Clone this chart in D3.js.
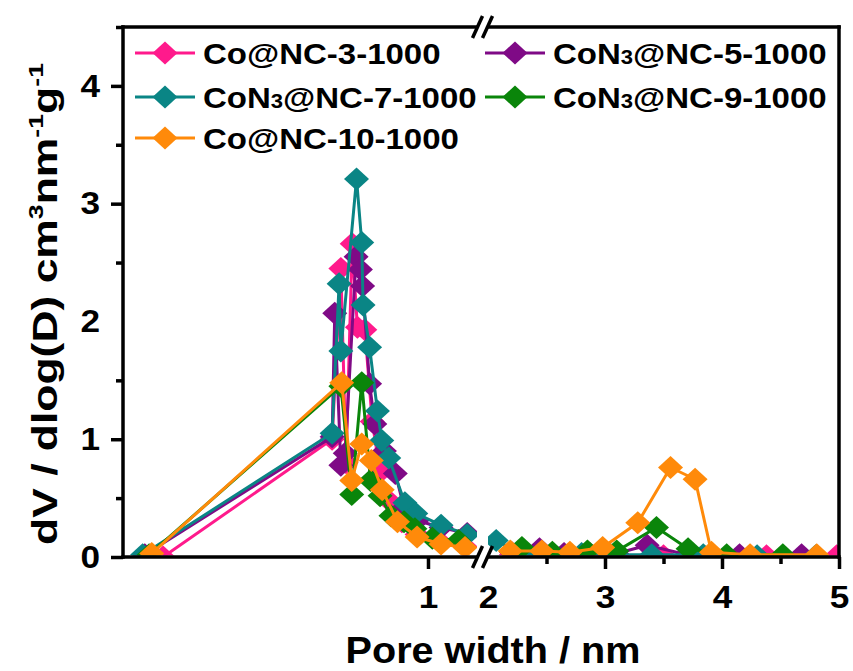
<!DOCTYPE html>
<html>
<head>
<meta charset="utf-8">
<script src="https://cdn.jsdelivr.net/npm/d3@7"></script>
<style>
body{margin:0;background:#fff;}
text{font-family:Arial,"Liberation Sans",sans-serif;font-weight:bold;fill:#000;}
</style>
</head>
<body>
<div id="chart"></div>
<script>
// pore size distribution
const seriesNames = ["Co@NC-3-1000", "CoN3@NC-5-1000", "CoN3@NC-7-1000", "CoN3@NC-9-1000", "Co@NC-10-1000"];
const seriesColors = ["#ff1a8c", "#7f0a86", "#0a8585", "#0a850a", "#ff8a0a"];

const co3 = [[0.392,0.0],[0.78,1.0],[0.80,2.45],[0.812,0.80],[0.826,2.66],[0.838,1.95],[0.855,1.93],[0.872,1.15],[0.89,0.72],[0.91,0.48],[0.94,0.30],[0.975,0.19],[1.03,0.12],[1.085,0.09],
             [2.2,0.02],[2.5,0.01],[2.8,0.01],[3.1,0.01],[3.5,0.01],[3.9,0.01],[4.38,0.01],[4.98,0.01]];
const con5 = [[0.35,0.02],[0.78,1.02],[0.786,2.07],[0.80,0.78],[0.81,0.88],[0.835,2.55],[0.845,2.44],[0.85,2.3],[0.866,1.47],[0.878,1.13],[0.90,0.90],[0.925,0.71],[0.945,0.42],[0.975,0.31],[1.03,0.25],[1.09,0.20],
              [2.2,0.04],[2.44,0.07],[2.65,0.03],[2.87,0.03],[3.1,0.03],[3.36,0.1],[3.7,0.02],[4.15,0.02],[4.68,0.02]];
const con7 = [[0.345,0.02],[0.78,1.05],[0.796,2.32],[0.80,1.75],[0.836,3.21],[0.848,2.67],[0.851,2.14],[0.866,1.78],[0.884,1.24],[0.894,0.99],[0.91,0.84],[0.947,0.46],[0.972,0.37],[1.03,0.27],[1.09,0.19],
              [2.07,0.14],[2.3,0.02],[2.55,0.02],[2.8,0.03],[3.05,0.02],[3.4,0.02],[3.84,0.02],[4.3,0.01],[4.8,0.01]];
const con9 = [[0.36,0.02],[0.80,1.45],[0.825,0.53],[0.848,1.48],[0.868,0.65],[0.89,0.52],[0.915,0.35],[0.945,0.30],[0.97,0.24],[1.01,0.16],[1.07,0.14],
              [2.29,0.08],[2.55,0.04],[2.85,0.05],[3.1,0.05],[3.44,0.25],[3.71,0.07],[4.04,0.02],[4.52,0.02]];
const co10 = [[0.366,0.03],[0.802,1.48],[0.825,0.65],[0.848,0.96],[0.87,0.82],[0.895,0.57],[0.93,0.30],[0.975,0.17],[1.03,0.11],[1.085,0.08],
              [2.19,0.05],[2.46,0.05],[2.70,0.04],[2.98,0.08],[3.28,0.29],[3.56,0.76],[3.77,0.66],[3.91,0.04],[4.24,0.02],[4.81,0.02]];
const allSeries = [co3, con5, con7, con9, co10];

const yTicks = [0, 1, 2, 3, 4];
const yMinor = [0.5, 1.5, 2.5, 3.5, 4.5];
const xLeftTicks = [1];
const xRightTicks = [2, 3, 4, 5];
const xRightMinor = [2.5, 3.5, 4.5];

const width = 853, height = 671;
const stretch = 1.1; // the source picture is a bit wide

const svg = d3.select("#chart").append("svg")
    .attr("width", width)
    .attr("height", height);

const xLeft = d3.scaleLinear().domain([0.3, 1.1125]).range([123, 477]);
const xRight = d3.scaleLinear().domain([2, 5]).range([488, 839]);
const y = d3.scaleLinear().domain([0, 4.5]).range([557, 27]);

function widen(sel){
    sel.each(function(){
        let len = this.getComputedTextLength();
        d3.select(this).attr("textLength", len*stretch).attr("lengthAdjust", "spacingAndGlyphs");
    });
}

const diamond = "M0,-11.5L12.5,0L0,11.5L-12.5,0Z";

let defs = svg.append("defs");
defs.append("clipPath").attr("id", "clipL").append("rect")
    .attr("x", 123).attr("y", 0).attr("width", 477-123).attr("height", y(0)-1.5);
defs.append("clipPath").attr("id", "clipR").append("rect")
    .attr("x", 488).attr("y", 0).attr("width", 839-488).attr("height", y(0)-1.5);

function drawPart(g, data, x, color){
    g.append("path")
        .datum(data)
        .attr("fill", "none")
        .attr("stroke", color)
        .attr("stroke-width", 3)
        .attr("stroke-linejoin", "round")
        .attr("d", d3.line().x(d => x(d[0])).y(d => y(d[1])));
    g.selectAll(null).data(data).enter().append("path")
        .attr("d", diamond)
        .attr("fill", color)
        .attr("transform", d => `translate(${x(d[0])},${y(d[1])})`);
}

let gl = svg.append("g").attr("clip-path", "url(#clipL)");
let gr = svg.append("g").attr("clip-path", "url(#clipR)");
allSeries.forEach(function(s, i){
    drawPart(gl.append("g"), s.filter(d => d[0] < 1.5), xLeft, seriesColors[i]);
    drawPart(gr.append("g"), s.filter(d => d[0] >= 1.5), xRight, seriesColors[i]);
});

// axes
const axW = 3.5;
const fmt = d3.format("d");
svg.append("g").attr("transform", "translate(123,0)")
    .call(d3.axisLeft(y).tickValues(yTicks).tickSize(12).tickSizeOuter(0).tickPadding(11).tickFormat(fmt));
svg.append("g").attr("transform", "translate(123,0)")
    .call(d3.axisLeft(y).tickValues(yMinor).tickSize(7).tickSizeOuter(0).tickFormat(""));
svg.append("g").attr("transform", `translate(0,${y(0)})`)
    .call(d3.axisBottom(xLeft).tickValues(xLeftTicks).tickSize(12).tickSizeOuter(0).tickPadding(16).tickFormat(fmt));
svg.append("g").attr("transform", `translate(0,${y(0)})`)
    .call(d3.axisBottom(xRight).tickValues(xRightTicks).tickSize(12).tickSizeOuter(0).tickPadding(16).tickFormat(fmt));
svg.append("g").attr("transform", `translate(0,${y(0)})`)
    .call(d3.axisBottom(xRight).tickValues(xRightMinor).tickSize(7).tickSizeOuter(0).tickFormat(""));
svg.selectAll(".domain").remove();
svg.selectAll(".tick line").attr("stroke", "#000").attr("stroke-width", axW);
svg.selectAll(".tick text").style("font-size", "32px").style("font-family", "Arial, 'Liberation Sans', sans-serif").style("font-weight", "bold").attr("fill", "#000").call(widen);
// hide the tick under the break mark at 2
svg.selectAll(".tick").filter(d => d === 2).select("line").remove();

// frame
let frame = svg.append("g").attr("stroke", "#000").attr("stroke-width", axW).attr("fill", "none");
frame.append("line").attr("x1", 123).attr("x2", 123).attr("y1", y(4.5)-1.75).attr("y2", y(0)+1.75);
frame.append("line").attr("x1", 839).attr("x2", 839).attr("y1", y(4.5)-1.75).attr("y2", y(0)+1.75);
[y(0), y(4.5)].forEach(function(yy){
    frame.append("line").attr("x1", 121.25).attr("x2", 478).attr("y1", yy).attr("y2", yy);
    frame.append("line").attr("x1", 487).attr("x2", 840.75).attr("y1", yy).attr("y2", yy);
    [477.5, 487.5].forEach(function(bx){
        frame.append("line").attr("x1", bx-5).attr("x2", bx+5).attr("y1", yy+11).attr("y2", yy-11);
    });
});

// axis titles
svg.append("text")
    .attr("x", 493).attr("y", 663)
    .attr("text-anchor", "middle")
    .style("font-size", "36px")
    .text("Pore width / nm")
    .call(widen);

let yt = svg.append("text")
    .attr("transform", "translate(57,304) rotate(-90)")
    .attr("text-anchor", "middle")
    .attr("textLength", 482)
    .attr("lengthAdjust", "spacingAndGlyphs")
    .style("font-size", "35px");
yt.append("tspan").text("dV / dlog(D) cm");
yt.append("tspan").attr("dy", -14).style("font-size", "21px").text("3");
yt.append("tspan").attr("dy", 14).text("nm");
yt.append("tspan").attr("dy", -14).style("font-size", "21px").text("-1");
yt.append("tspan").attr("dy", 14).text("g");
yt.append("tspan").attr("dy", -14).style("font-size", "21px").text("-1");

// legend
const legendPos = [[135, 53], [485, 53], [135, 97], [485, 97], [135, 138]];
const legendOrder = [0, 1, 2, 3, 4];
legendOrder.forEach(function(si, k){
    let p = legendPos[k];
    let g = svg.append("g").attr("transform", `translate(${p[0]},${p[1]})`);
    g.append("line").attr("x1", 0).attr("x2", 60).attr("y1", 0).attr("y2", 0)
        .attr("stroke", seriesColors[si]).attr("stroke-width", 3);
    g.append("path").attr("d", diamond).attr("fill", seriesColors[si]).attr("transform", "translate(30,0)");
    let t = g.append("text").attr("x", 68).attr("y", 11).style("font-size", "30px");
    let name = seriesNames[si];
    if(name.startsWith("CoN3")){
        t.append("tspan").text("CoN");
        t.append("tspan").style("font-size", "20px").text("3");
        t.append("tspan").text(name.slice(4));
    } else {
        t.text(name);
    }
    t.call(widen);
});
</script>
</body>
</html>
